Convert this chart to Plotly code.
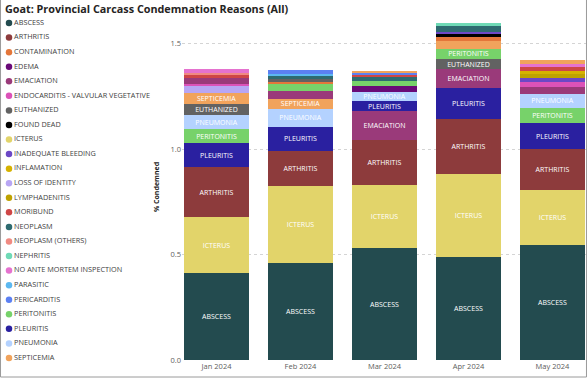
import plotly.graph_objects as go

# ---------------- data ----------------
reasons = [
    "ABSCESS", "ARTHRITIS", "CONTAMINATION", "EDEMA", "EMACIATION",
    "ENDOCARDITIS - VALVULAR VEGETATIVE", "EUTHANIZED", "FOUND DEAD", "ICTERUS",
    "INADEQUATE BLEEDING", "INFLAMATION", "LOSS OF IDENTITY", "LYMPHADENITIS",
    "MORIBUND", "NEOPLASM", "NEOPLASM (OTHERS)", "NEPHRITIS",
    "NO ANTE MORTEM INSPECTION", "PARASITIC", "PERICARDITIS", "PERITONITIS",
    "PLEURITIS", "PNEUMONIA", "SEPTICEMIA",
]
reason_colors = [
    "#234b4f", "#8d3b3c", "#e4763a", "#6a0a78", "#9a3a7a",
    "#dc52b8", "#626262", "#000000", "#e2d46a",
    "#6c48c6", "#d6b200", "#b8a6f4", "#bea200",
    "#cf4646", "#2e6b70", "#f08a82", "#6fdab6",
    "#e572cf", "#5cb8f0", "#5c80f2", "#77d26a",
    "#2a20a0", "#b4d2ff", "#f1a35c",
]

months = ["Jan 2024", "Feb 2024", "Mar 2024", "Apr 2024", "May 2024"]

# stack order (bottom -> top) and values, % condemned
jan_reasons = ["ABSCESS", "ICTERUS", "ARTHRITIS", "PLEURITIS", "PERITONITIS", "PNEUMONIA",
               "EUTHANIZED", "SEPTICEMIA", "LOSS OF IDENTITY", "ENDOCARDITIS - VALVULAR VEGETATIVE",
               "EMACIATION", "MORIBUND", "NEOPLASM (OTHERS)", "NO ANTE MORTEM INSPECTION"]
jan_values = [0.412, 0.265, 0.237, 0.114, 0.066, 0.066, 0.052, 0.052, 0.033, 0.012,
              0.028, 0.012, 0.013, 0.017]

feb_reasons = ["ABSCESS", "ICTERUS", "ARTHRITIS", "PLEURITIS", "PNEUMONIA", "SEPTICEMIA",
               "EMACIATION", "PERITONITIS", "CONTAMINATION", "EUTHANIZED", "NEOPLASM",
               "PARASITIC", "PERICARDITIS"]
feb_values = [0.460, 0.365, 0.166, 0.114, 0.085, 0.047, 0.038, 0.033, 0.014, 0.008, 0.018,
              0.010, 0.016]

mar_reasons = ["ABSCESS", "ICTERUS", "ARTHRITIS", "EMACIATION", "PLEURITIS", "PNEUMONIA",
               "EDEMA", "PERITONITIS", "NEOPLASM", "MORIBUND", "PERICARDITIS", "SEPTICEMIA"]
mar_values = [0.530, 0.300, 0.213, 0.137, 0.047, 0.043, 0.028, 0.026, 0.016, 0.012, 0.010, 0.010]

apr_reasons = ["ABSCESS", "ICTERUS", "ARTHRITIS", "PLEURITIS", "EMACIATION", "EUTHANIZED",
               "PERITONITIS", "SEPTICEMIA", "CONTAMINATION", "FOUND DEAD", "INADEQUATE BLEEDING",
               "NEOPLASM", "NEPHRITIS"]
apr_values = [0.490, 0.390, 0.260, 0.147, 0.090, 0.052, 0.047, 0.038, 0.017, 0.012, 0.014,
              0.028, 0.014]

may_reasons = ["ABSCESS", "ICTERUS", "ARTHRITIS", "PLEURITIS", "PERITONITIS", "PNEUMONIA",
               "EMACIATION", "ENDOCARDITIS - VALVULAR VEGETATIVE", "INADEQUATE BLEEDING",
               "LYMPHADENITIS", "INFLAMATION", "MORIBUND", "NO ANTE MORTEM INSPECTION", "SEPTICEMIA"]
may_values = [0.545, 0.260, 0.194, 0.123, 0.071, 0.070, 0.033, 0.022, 0.019, 0.019, 0.016,
              0.016, 0.016, 0.016]

y_ticks = [0.0, 0.5, 1.0, 1.5]
title_text = "Goat: Provincial Carcass Condemnation Reasons (All)"
y_title = "% Condemned"

# ---------------- figure ----------------
FONT = "Open Sans"
color_of = dict(zip(reasons, reason_colors))
stacks = [
    (months[0], jan_reasons, jan_values),
    (months[1], feb_reasons, feb_values),
    (months[2], mar_reasons, mar_values),
    (months[3], apr_reasons, apr_values),
    (months[4], may_reasons, may_values),
]

fig = go.Figure()
LABEL_MIN = 0.04
for month, rs, vs in stacks:
    for r, v in zip(rs, vs):
        fig.add_trace(go.Bar(
            x=[month], y=[v], name=r, showlegend=False,
            marker=dict(color=color_of[r], line=dict(width=0)),
            width=0.775,
            text=[r if v >= LABEL_MIN else ""],
            textposition="inside", insidetextanchor="middle", textangle=0,
            textfont=dict(family=FONT, size=7, color="white"),
            hoverinfo="skip",
        ))

# legend drawn as markers + text on a helper axis
fig.add_trace(go.Scatter(
    x=[0.0512] * len(reasons), y=list(range(len(reasons))),
    mode="markers+text", text=reasons, textposition="middle right",
    marker=dict(color=reason_colors, size=6.5, symbol="circle"),
    textfont=dict(family=FONT, size=7.3, color="#404040"),
    xaxis="x2", yaxis="y2", showlegend=False, hoverinfo="skip", cliponaxis=False,
))

W, H = 588, 379
ML, MR, MT, MB = 0, 2, 14, 19
pw, ph = W - ML - MR, H - MT - MB
main_left = 182

fig.update_layout(
    width=W, height=H,
    margin=dict(l=ML, r=MR, t=MT, b=MB, pad=0),
    barmode="stack", bargap=0.2,
    uniformtext=dict(mode="show", minsize=7),
    plot_bgcolor="white", paper_bgcolor="white",
    font=dict(family=FONT, size=8, color="#605e5c"),
    title=dict(text="<b>" + title_text + "</b>", x=5 / W, xref="container", xanchor="left",
               y=1 - 9 / H, yref="container", yanchor="middle",
               font=dict(family=FONT, size=10.8, color="#252423")),
    xaxis=dict(domain=[main_left / pw, 1], type="category", categoryorder="array",
               categoryarray=months, range=[-0.411, 4.399], showgrid=False,
               showline=False, ticks="", tickfont=dict(size=7.5, color="#605e5c"),
               zeroline=False, automargin=False),
    yaxis=dict(range=[0, 1.64], tickvals=y_ticks, tickformat=".1f", showgrid=True,
               gridcolor="#d4d4d4", griddash="dot", gridwidth=1, zeroline=False,
               showline=False, ticks="", tickfont=dict(size=7.5, color="#605e5c"),
               automargin=False,
               title=dict(text="<b>" + y_title + "</b>", standoff=10,
                          font=dict(size=7, color="#252423"))),
    xaxis2=dict(domain=[0, 0.3], range=[0, 1], visible=False, fixedrange=True),
    yaxis2=dict(domain=[0, 1], range=[23.137, -0.618], visible=False, fixedrange=True,
                anchor="x2"),
    shapes=[
        dict(type="line", xref="paper", yref="paper", x0=0.0009, x1=0.0009,
             y0=1 + (MT + 2) / ph, y1=-(17 / ph), line=dict(color="#9a9a9a", width=1)),
        dict(type="line", xref="paper", yref="paper", x0=0.0009, x1=1.0008,
             y0=-(17 / ph), y1=-(17 / ph), line=dict(color="#9a9a9a", width=1)),
        dict(type="line", xref="paper", yref="paper", x0=1.0008, x1=1.0008,
             y0=1 + (MT + 2) / ph, y1=-(17 / ph), line=dict(color="#9a9a9a", width=1)),
    ],
)
fig.update_layout(xaxis2_anchor="y2")

fig.write_html("out.html", config={"displayModeBar": False},
               post_script="document.body.style.margin='0';")
